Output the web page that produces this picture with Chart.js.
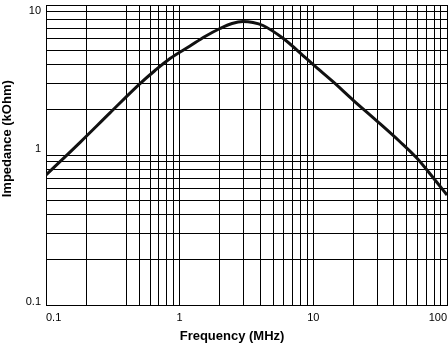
<!DOCTYPE html>
<html>
<head>
<meta charset="utf-8">
<title>Impedance vs Frequency</title>
<script src="https://cdn.jsdelivr.net/npm/chart.js@4.4.0/dist/chart.umd.min.js"></script>
<style>
  html, body { margin: 0; padding: 0; background: #fff; }
  #contenedor { width: 448px; height: 346px; position: relative; }
</style>
</head>
<body>
<div id="contenedor"><canvas id="grafica"></canvas></div>
<script>
// curva de impedancia (MHz -> kOhm)
const frecuencias = [0.1, 0.18, 0.301, 0.505, 0.654, 0.847, 1.195, 1.547, 2.003, 2.464, 2.977, 3.537, 4.202,
                     5.93, 8.368, 9.94, 14.03, 19.81, 29.94, 44.49, 59.64, 78.57, 100];
const impedancias = [0.736, 1.215, 1.909, 2.992, 3.659, 4.399, 5.33, 6.166, 6.97, 7.53, 7.76, 7.64, 7.30,
                     5.998, 4.606, 4.012, 3.082, 2.326, 1.685, 1.226, 0.951, 0.708, 0.541];

// lineas de la rejilla (sin linea en 0.3 MHz)
const lineasX = [0.1, 0.2, 0.4, 0.5, 0.6, 0.7, 0.8, 0.9,
                 1, 2, 3, 4, 5, 6, 7, 8, 9,
                 10, 20, 30, 40, 50, 60, 70, 80, 90, 100];
const lineasY = [0.1, 0.2, 0.3, 0.4, 0.5, 0.6, 0.7, 0.8, 0.9,
                 1, 2, 3, 4, 5, 6, 7, 8, 9, 10];

const etiquetasX = [0.1, 1, 10, 100];
const etiquetasY = [0.1, 1, 10];

const FUENTE = "'Liberation Sans', Arial, Helvetica, sans-serif";

function crearGrafica() {
    const ctx = document.getElementById('grafica').getContext('2d');
    new Chart(ctx, {
        type: 'line',
        data: {
            datasets: [{
                data: frecuencias.map((f, i) => ({ x: f, y: impedancias[i] })),
                borderColor: '#111',
                borderWidth: 3,
                pointRadius: 0,
                cubicInterpolationMode: 'monotone',
                fill: false
            }]
        },
        options: {
            responsive: true,
            maintainAspectRatio: false,
            animation: false,
            layout: { padding: { top: 5, right: 1, bottom: 0, left: 0 } },
            plugins: {
                legend: { display: false },
                tooltip: { enabled: false }
            },
            scales: {
                x: {
                    type: 'logarithmic',
                    min: 0.1,
                    max: 100,
                    afterBuildTicks: (eje) => {
                        eje.ticks = lineasX.map(v => ({ value: v }));
                    },
                    afterFit: (eje) => {
                        eje.height = 41;
                        eje.paddingLeft = 0;
                        eje.paddingRight = 0;
                    },
                    grid: { color: '#000', lineWidth: 1, drawTicks: false },
                    border: { color: '#000', width: 1 },
                    ticks: {
                        autoSkip: false,
                        maxRotation: 0,
                        align: 'inner',
                        padding: 6,
                        color: '#000',
                        font: { family: FUENTE, size: 11 },
                        callback: (valor) => etiquetasX.includes(valor) ? String(valor) : ''
                    },
                    title: {
                        display: true,
                        // espacios al final para correr el titulo a la izquierda
                        text: 'Frequency (MHz)' + '\u00a0'.repeat(8),
                        color: '#000',
                        padding: { top: 0, bottom: 2 },
                        font: { family: FUENTE, size: 13, weight: 'bold' }
                    }
                },
                y: {
                    type: 'logarithmic',
                    min: 0.1,
                    max: 10,
                    afterBuildTicks: (eje) => {
                        eje.ticks = lineasY.map(v => ({ value: v }));
                    },
                    afterFit: (eje) => {
                        eje.width = 46;
                        eje.paddingTop = 0;
                        eje.paddingBottom = 0;
                    },
                    grid: { color: '#000', lineWidth: 1, drawTicks: false },
                    border: { color: '#000', width: 1 },
                    ticks: {
                        autoSkip: false,
                        padding: 5,
                        color: '#000',
                        // las etiquetas de los extremos quedan dentro del area
                        font: (c) => {
                            const v = c.tick ? c.tick.value : null;
                            const alto = v === 0.1 ? '7px' : (v === 10 ? '12px' : '13px');
                            return { family: FUENTE, size: 11, lineHeight: alto };
                        },
                        callback: (valor) => {
                            if (!etiquetasY.includes(valor)) return '';
                            return valor === 10 ? ['', '10'] : [String(valor), ''];
                        }
                    },
                    title: {
                        display: true,
                        text: '\u00a0'.repeat(9) + 'Impedance (kOhm)',
                        color: '#000',
                        padding: { top: 0, bottom: 0 },
                        font: { family: FUENTE, size: 13, weight: 'bold' }
                    }
                }
            }
        }
    });
}

crearGrafica();
</script>
</body>
</html>
